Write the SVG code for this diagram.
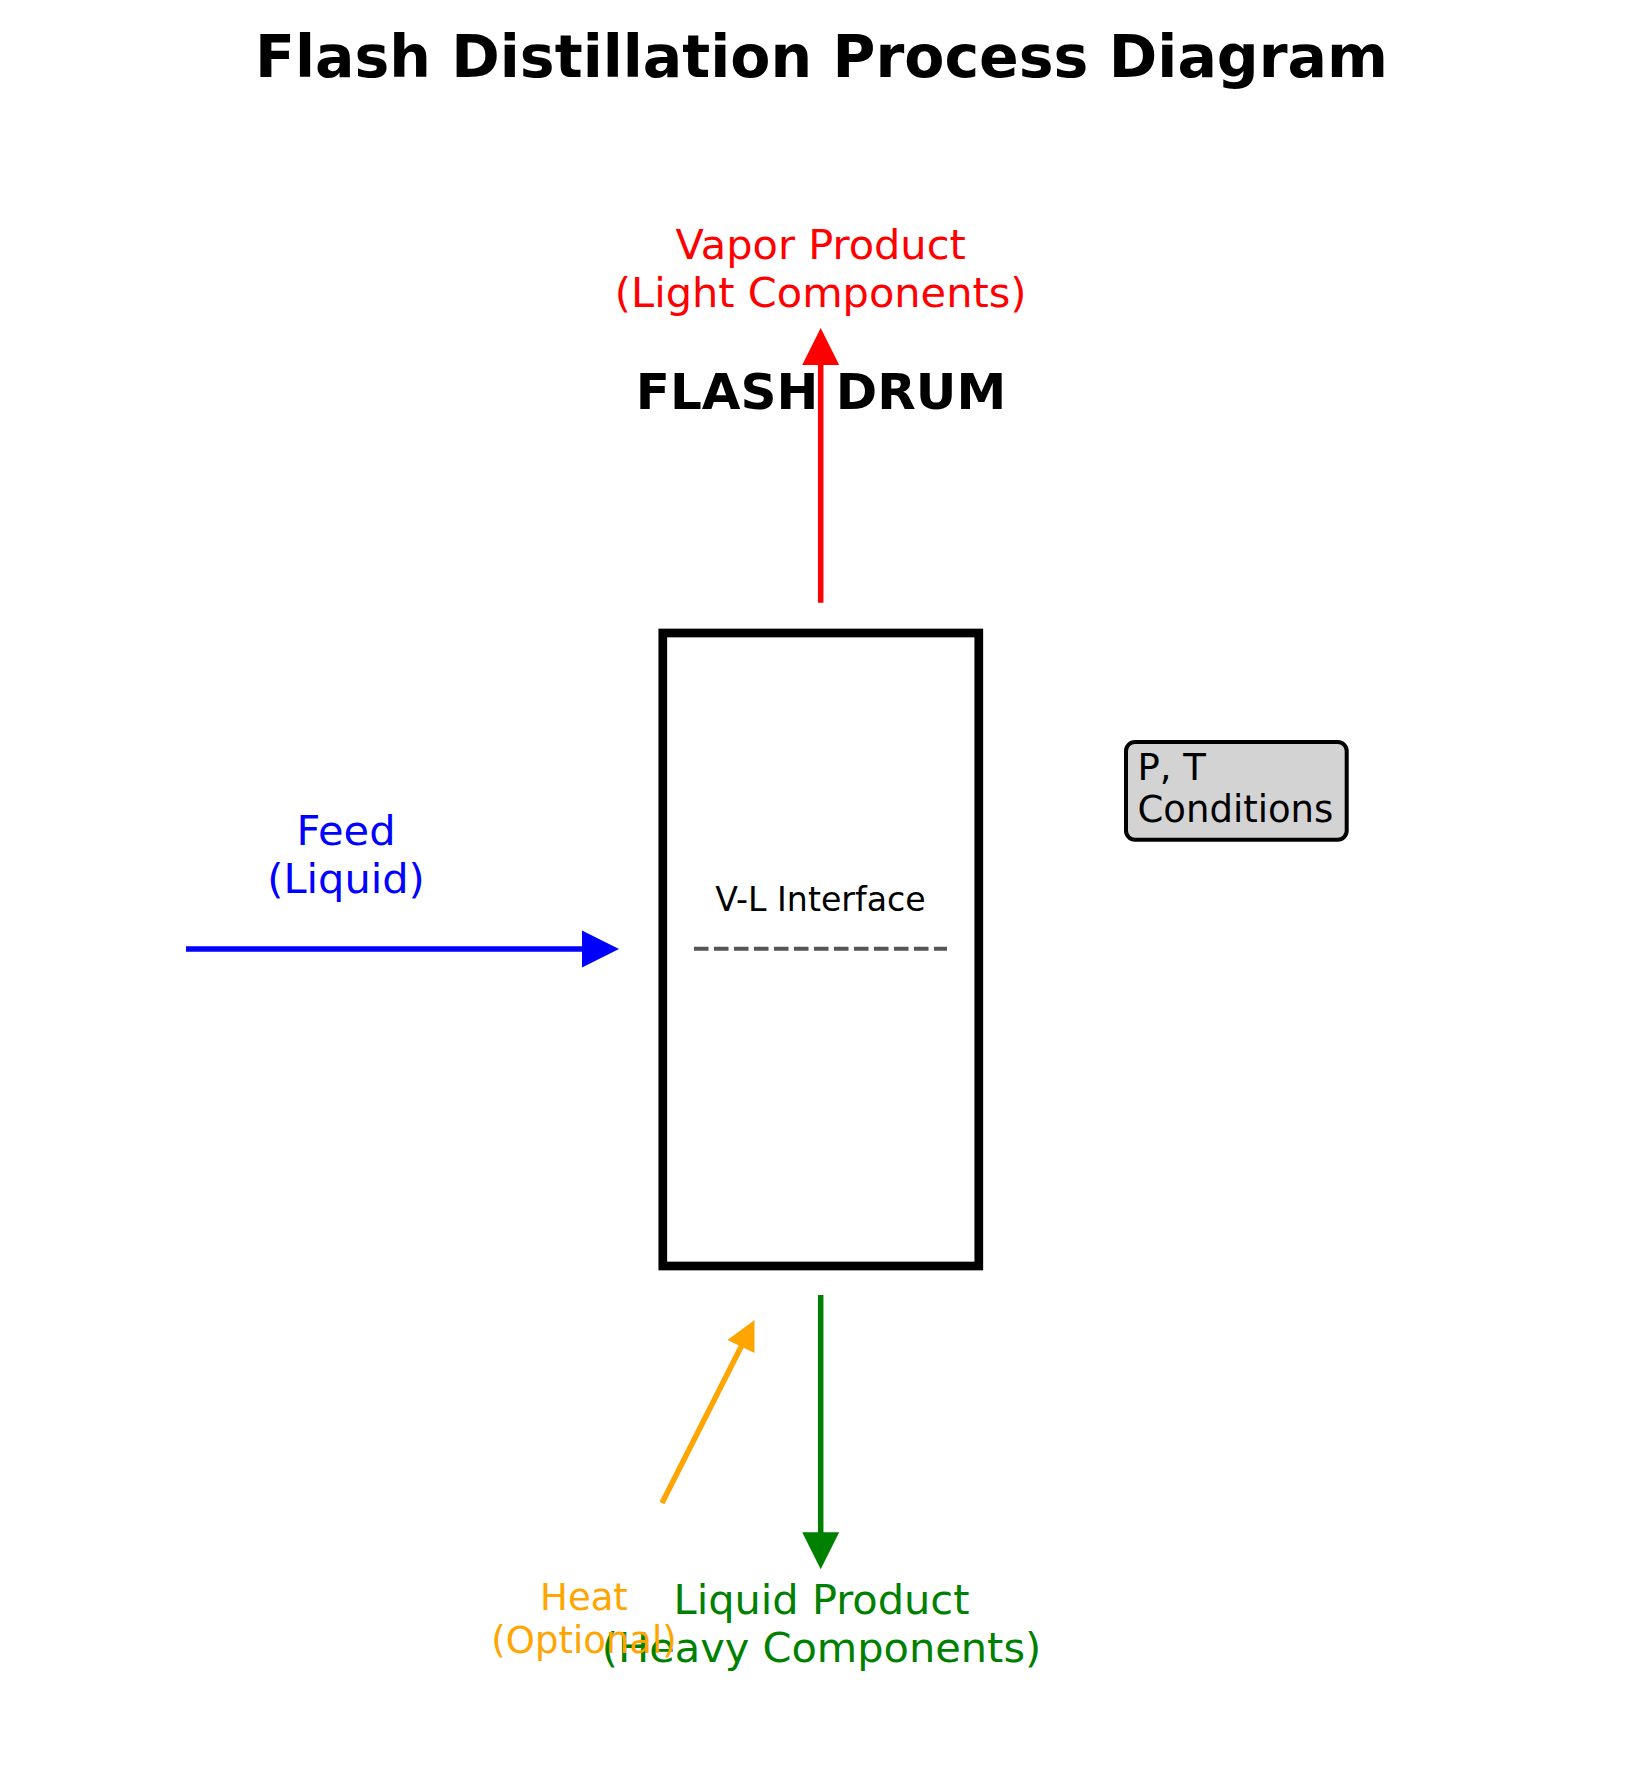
<svg xmlns="http://www.w3.org/2000/svg" width="1641" height="1770" viewBox="0 0 1641 1770">
<style>
text{font-family:"DejaVu Sans","Liberation Sans",sans-serif;text-anchor:middle}
.title{font-size:58.5px;font-weight:bold}
.lbl{font-size:41.5px}
.small{font-size:37px}
.vl{font-size:33.2px}
</style>
<rect width="1641" height="1770" fill="#fff"/>
<text class="title" x="821.5" y="77">Flash Distillation Process Diagram</text>
<g id="connectors">
  <g id="vapor-arrow">
    <line x1="820.7" y1="602.7" x2="820.7" y2="362" stroke="#ff0000" stroke-width="5.5"/>
    <polygon points="820.7,328 839.2,365 802.2,365" fill="#ff0000"/>
  </g>
  <g id="feed-arrow">
    <line x1="186" y1="949" x2="585" y2="949" stroke="#0000ff" stroke-width="5.5"/>
    <polygon points="619,949 582,930.5 582,967.5" fill="#0000ff"/>
  </g>
  <g id="liquid-arrow">
    <line x1="820.7" y1="1295" x2="820.7" y2="1535" stroke="#008000" stroke-width="5.5"/>
    <polygon points="820.7,1569.3 839.2,1532.3 802.2,1532.3" fill="#008000"/>
  </g>
  <g id="heat-arrow">
    <line x1="662" y1="1503" x2="743" y2="1343" stroke="#ffa500" stroke-width="5.5"/>
    <polygon points="754.5,1320 754.5,1353 727.5,1340" fill="#ffa500"/>
  </g>
</g>
<g id="flash-drum">
  <rect x="662.8" y="633" width="316" height="633" fill="none" stroke="#000" stroke-width="8.7"/>
  <text class="vl" x="820.5" y="910.7">V-L Interface</text>
  <line x1="694" y1="948.7" x2="947" y2="948.7" stroke="#555555" stroke-width="4" stroke-dasharray="14.5,5.5"/>
</g>
<g id="flash-drum-label">
  <text x="821" y="409.3" style="font-size:50px;font-weight:bold">FLASH DRUM</text>
</g>
<g id="vapor-product">
  <text class="lbl" x="820.7" y="259.3" fill="#ff0000">Vapor Product</text>
  <text class="lbl" x="820.7" y="307.3" fill="#ff0000">(Light Components)</text>
</g>
<g id="feed">
  <text class="lbl" x="346" y="845" fill="#0000ff">Feed</text>
  <text class="lbl" x="346" y="892.7" fill="#0000ff">(Liquid)</text>
</g>
<g id="liquid-product">
  <text class="lbl" x="821.5" y="1614" fill="#008000">Liquid Product</text>
  <text class="lbl" x="821.5" y="1662" fill="#008000">(Heavy Components)</text>
</g>
<g id="heat">
  <text class="small" x="584" y="1610" fill="#ffa500">Heat</text>
  <text class="small" x="584" y="1653" fill="#ffa500">(Optional)</text>
</g>
<g id="conditions">
  <rect x="1126" y="742" width="220.7" height="97.7" rx="9" fill="#d3d3d3" stroke="#000" stroke-width="4"/>
  <text class="small" x="1137.5" y="780" style="text-anchor:start">P, T</text>
  <text class="small" x="1137.5" y="822.3" style="text-anchor:start">Conditions</text>
</g>
</svg>
